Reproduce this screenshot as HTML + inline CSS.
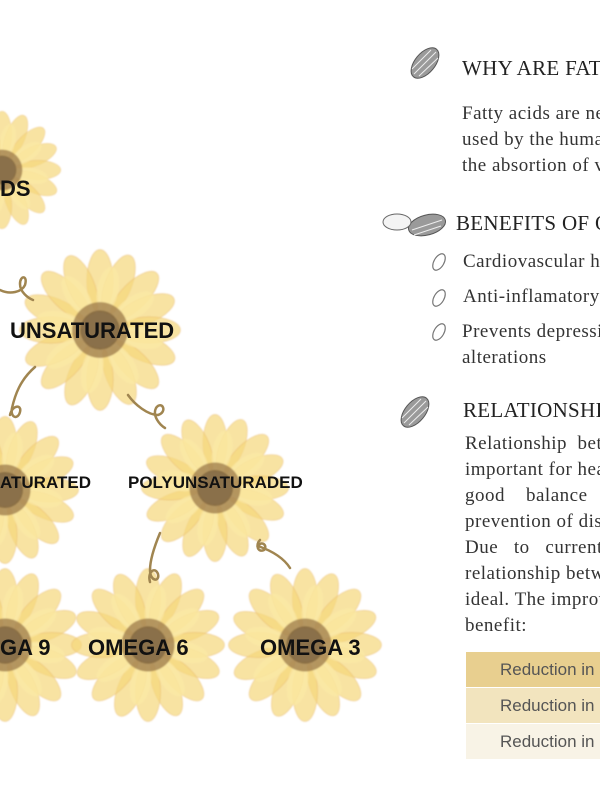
<!DOCTYPE html>
<html><head><style>
body{margin:0;width:600px;height:800px;background:#fff;position:relative;overflow:hidden;font-family:"Liberation Serif",serif;color:#2a2a2a}
#clip{position:absolute;left:440px;top:0;width:160px;height:800px;overflow:hidden}
.t{position:absolute;white-space:nowrap}
.h{font-size:21px;color:#222;letter-spacing:0.3px}
.p{font-size:19px;line-height:26px;color:#333;letter-spacing:0.5px}
.lab{position:absolute;font-family:"Liberation Sans",sans-serif;font-weight:bold;color:#111;white-space:nowrap}
.row{position:absolute;left:26px;width:134px;height:35px;font-family:"Liberation Sans",sans-serif;font-size:17px;color:#555;line-height:35px;padding-left:34px;box-sizing:border-box;overflow:hidden;white-space:nowrap}
</style></head><body>
<svg width="600" height="800" style="position:absolute;left:0;top:0">
<defs>
<filter id="bl"><feGaussianBlur stdDeviation="0.8"/></filter>
<g id="fl">
<g fill="#f5d77a" fill-opacity="0.7" stroke="#e6b065" stroke-opacity="0.4" stroke-width="1.2">
<ellipse cx="0" cy="-60" rx="16" ry="38"/>
<ellipse cx="0" cy="-60" rx="16" ry="38" transform="rotate(22)"/>
<ellipse cx="0" cy="-60" rx="16" ry="38" transform="rotate(45)"/>
<ellipse cx="0" cy="-60" rx="16" ry="38" transform="rotate(67)"/>
<ellipse cx="0" cy="-60" rx="16" ry="38" transform="rotate(90)"/>
<ellipse cx="0" cy="-60" rx="16" ry="38" transform="rotate(112)"/>
<ellipse cx="0" cy="-60" rx="16" ry="38" transform="rotate(135)"/>
<ellipse cx="0" cy="-60" rx="16" ry="38" transform="rotate(157)"/>
<ellipse cx="0" cy="-60" rx="16" ry="38" transform="rotate(180)"/>
<ellipse cx="0" cy="-60" rx="16" ry="38" transform="rotate(202)"/>
<ellipse cx="0" cy="-60" rx="16" ry="38" transform="rotate(225)"/>
<ellipse cx="0" cy="-60" rx="16" ry="38" transform="rotate(247)"/>
<ellipse cx="0" cy="-60" rx="16" ry="38" transform="rotate(270)"/>
<ellipse cx="0" cy="-60" rx="16" ry="38" transform="rotate(292)"/>
<ellipse cx="0" cy="-60" rx="16" ry="38" transform="rotate(315)"/>
<ellipse cx="0" cy="-60" rx="16" ry="38" transform="rotate(337)"/>
</g>
<g fill="#fbe9a6" fill-opacity="0.75">
<ellipse cx="0" cy="-50" rx="13" ry="28" transform="rotate(11)"/>
<ellipse cx="0" cy="-50" rx="13" ry="28" transform="rotate(56)"/>
<ellipse cx="0" cy="-50" rx="13" ry="28" transform="rotate(101)"/>
<ellipse cx="0" cy="-50" rx="13" ry="28" transform="rotate(146)"/>
<ellipse cx="0" cy="-50" rx="13" ry="28" transform="rotate(191)"/>
<ellipse cx="0" cy="-50" rx="13" ry="28" transform="rotate(236)"/>
<ellipse cx="0" cy="-50" rx="13" ry="28" transform="rotate(281)"/>
<ellipse cx="0" cy="-50" rx="13" ry="28" transform="rotate(326)"/>
</g>
<circle r="34" fill="#a2814f" fill-opacity="0.8"/>
<circle r="24" fill="#6e5530" fill-opacity="0.6"/>
</g>
</defs>
<g filter="url(#bl)">
<use href="#fl" transform="translate(2,170) scale(0.6)"/>
<use href="#fl" transform="translate(100,330) scale(0.82)"/>
<use href="#fl" transform="translate(5,490) scale(0.75)"/>
<use href="#fl" transform="translate(215,488) scale(0.75)"/>
<use href="#fl" transform="translate(5,645) scale(0.78)"/>
<use href="#fl" transform="translate(148,645) scale(0.78)"/>
<use href="#fl" transform="translate(305,645) scale(0.78)"/>
</g>
<g fill="none" stroke="#a08550" stroke-width="2.5" stroke-linecap="round">
<path d="M0,290 C10,295 22,292 25,285 C28,275 20,275 20,284 C20,292 28,298 33,300"/>
<path d="M35,367 C20,380 15,395 12,408 C10,418 18,420 20,412 C22,404 12,405 10,415"/>
<path d="M128,395 C135,405 148,415 158,415 C168,412 162,400 156,408 C152,416 160,425 165,428"/>
<path d="M160,533 C155,545 150,560 150,570 C150,582 160,582 158,574 C155,566 147,572 150,582"/>
<path d="M260,540 C255,545 258,553 264,550 C268,546 262,540 258,546 C275,552 285,560 290,568"/>
</g>
<g fill="#9a9a9a" stroke="#555" stroke-width="1">
<ellipse cx="425" cy="63" rx="10" ry="18" transform="rotate(40 425 63)"/>
<ellipse cx="427" cy="225" rx="10" ry="19" transform="rotate(75 427 225)"/>
<ellipse cx="415" cy="412" rx="10" ry="18" transform="rotate(40 415 412)"/>
</g>
<g stroke="#eee" stroke-width="1">
<line x1="414" y1="74" x2="436" y2="52"/><line x1="419" y1="76" x2="438" y2="58"/><line x1="412" y1="69" x2="431" y2="50"/>
<line x1="404" y1="423" x2="426" y2="401"/><line x1="409" y1="425" x2="428" y2="407"/><line x1="402" y1="418" x2="421" y2="399"/>
<line x1="412" y1="230" x2="442" y2="220"/><line x1="414" y1="235" x2="441" y2="226"/>
</g>
<ellipse cx="397" cy="222" rx="14" ry="8" fill="#f4f4f4" stroke="#666" stroke-width="1"/>
<g fill="none" stroke="#777" stroke-width="1.2">
<ellipse cx="439" cy="262" rx="5" ry="9" transform="rotate(30 439 262)"/>
<ellipse cx="439" cy="298" rx="5" ry="9" transform="rotate(30 439 298)"/>
<ellipse cx="439" cy="332" rx="5" ry="9" transform="rotate(30 439 332)"/>
</g>
</svg>
<div class="lab" style="left:0;top:176px;font-size:22px">DS</div>
<div class="lab" style="left:10px;top:318px;font-size:22px">UNSATURATED</div>
<div class="lab" style="left:0;top:473px;font-size:17px">ATURATED</div>
<div class="lab" style="left:128px;top:473px;font-size:17px">POLYUNSATURADED</div>
<div class="lab" style="left:0;top:635px;font-size:22px">GA 9</div>
<div class="lab" style="left:88px;top:635px;font-size:22px">OMEGA 6</div>
<div class="lab" style="left:260px;top:635px;font-size:22px">OMEGA 3</div>

<div id="clip">
<div class="t h" style="left:22px;top:56px">WHY ARE FATTY ACIDS IMPORTANT</div>
<div class="t p" style="left:22px;top:101px">Fatty acids are necessary<br>used by the human body<br>the absortion of vitamins</div>
<div class="t h" style="left:16px;top:211px">BENEFITS OF OMEGA</div>
<div class="t p" style="left:23px;top:249px">Cardiovascular health</div>
<div class="t p" style="left:23px;top:284px">Anti-inflamatory</div>
<div class="t p" style="left:22px;top:319px">Prevents depression<br>alterations</div>
<div class="t h" style="left:23px;top:398px">RELATIONSHIP</div>
<div class="t p" style="left:25px;top:431px">Relationship&nbsp;&nbsp;between<br>important for health<br>good&nbsp;&nbsp;&nbsp;&nbsp;balance<br>prevention of disease<br>Due&nbsp;&nbsp;&nbsp;to&nbsp;&nbsp;&nbsp;current<br>relationship between<br>ideal. The improvement<br>benefit:</div>
<div class="row" style="top:652px;background:#e8cf8f">Reduction in risk</div>
<div class="row" style="top:688px;background:#f2e4be">Reduction in risk</div>
<div class="row" style="top:724px;background:#f8f3e6">Reduction in risk</div>
</div>
</body></html>
